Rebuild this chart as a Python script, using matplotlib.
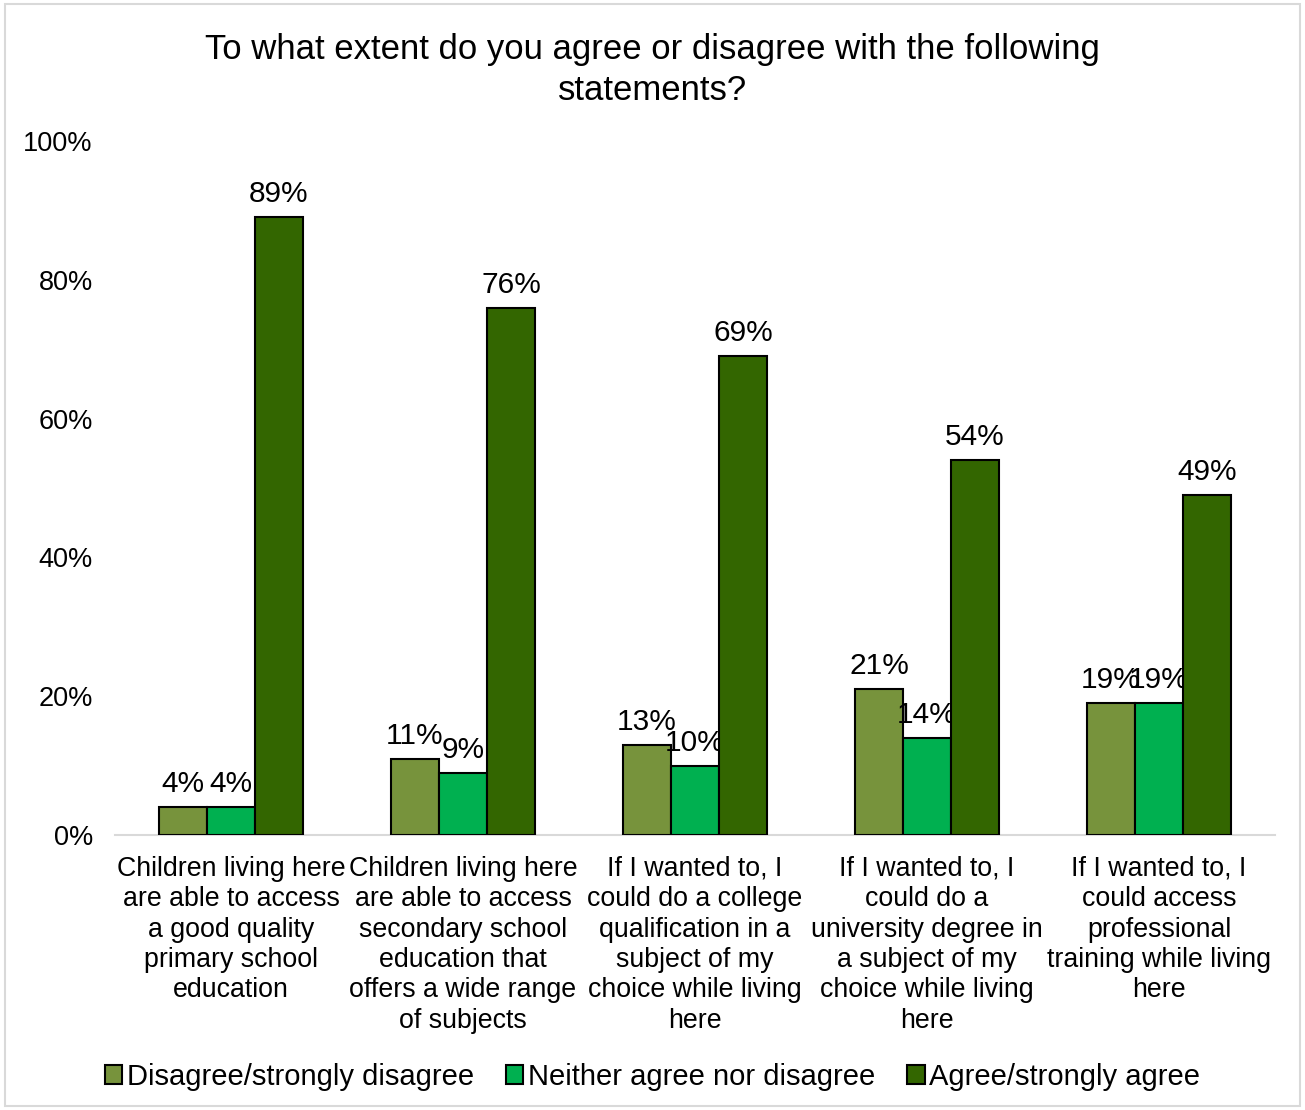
import numpy as np
import matplotlib.pyplot as plt
from matplotlib.patches import Rectangle

plt.rcParams['font.family'] = ['Liberation Sans', 'DejaVu Sans']

categories = [
    "Children living here\nare able to access\na good quality\nprimary school\neducation",
    "Children living here\nare able to access\nsecondary school\neducation that\noffers a wide range\nof subjects",
    "If I wanted to, I\ncould do a college\nqualification in a\nsubject of my\nchoice while living\nhere",
    "If I wanted to, I\ncould do a\nuniversity degree in\na subject of my\nchoice while living\nhere",
    "If I wanted to, I\ncould access\nprofessional\ntraining while living\nhere",
]
series_names = ["Disagree/strongly disagree", "Neither agree nor disagree", "Agree/strongly agree"]
disagree = [4, 11, 13, 21, 19]
neither = [4, 9, 10, 14, 19]
agree = [89, 76, 69, 54, 49]
colors = ["#77933C", "#00B050", "#336600"]
yticks = [0, 20, 40, 60, 80, 100]

fig = plt.figure(figsize=(13.05, 11.1), dpi=100)
ax = fig.add_axes([115 / 1305, 1 - 835 / 1110, 1160 / 1305, 694 / 1110])

x = np.arange(len(categories))
w = 0.207
for i, (vals, name, c) in enumerate(zip([disagree, neither, agree], series_names, colors)):
    pos = x + (i - 1) * w
    ax.bar(pos, vals, w, color=c, edgecolor="black", linewidth=1.5, label=name, zorder=3)
    for p, v in zip(pos, vals):
        ax.text(p, v + 1.3, f"{v}%", ha="center", va="bottom", fontsize=21.5)

ax.set_xlim(-0.5, len(categories) - 0.5)
ax.set_ylim(0, 100)
ax.set_yticks(yticks)
ax.set_yticklabels([f"{t}%" for t in yticks], fontsize=19.5)
ax.set_xticks(x)
ax.set_xticklabels(categories, fontsize=19.3, linespacing=1.22, va="top")
ax.tick_params(axis="x", length=0, pad=15)
ax.tick_params(axis="y", length=0, pad=16)
for s in ["top", "right", "left"]:
    ax.spines[s].set_visible(False)
ax.spines["bottom"].set_color("#D9D9D9")
ax.spines["bottom"].set_linewidth(1.5)

fig.text(0.5, 1 - 33 / 1110, "To what extent do you agree or disagree with the following\nstatements?",
         fontsize=25, ha="center", va="top", linespacing=1.3)

handles = [Rectangle((0, 0), 1, 1, facecolor=c, edgecolor="black", linewidth=1.5) for c in colors]
fig.legend(handles, series_names, loc="center", bbox_to_anchor=(0.5, 1 - 1077 / 1110), ncol=3,
           frameon=False, fontsize=21, handlelength=0.6, handleheight=0.6,
           handletextpad=0.15, columnspacing=1.1)

fig.add_artist(Rectangle((0.004, 0.004), 0.992, 0.992, transform=fig.transFigure,
                         fill=False, edgecolor="#D9D9D9", linewidth=1.5))

fig.savefig("out.png", dpi=100)
